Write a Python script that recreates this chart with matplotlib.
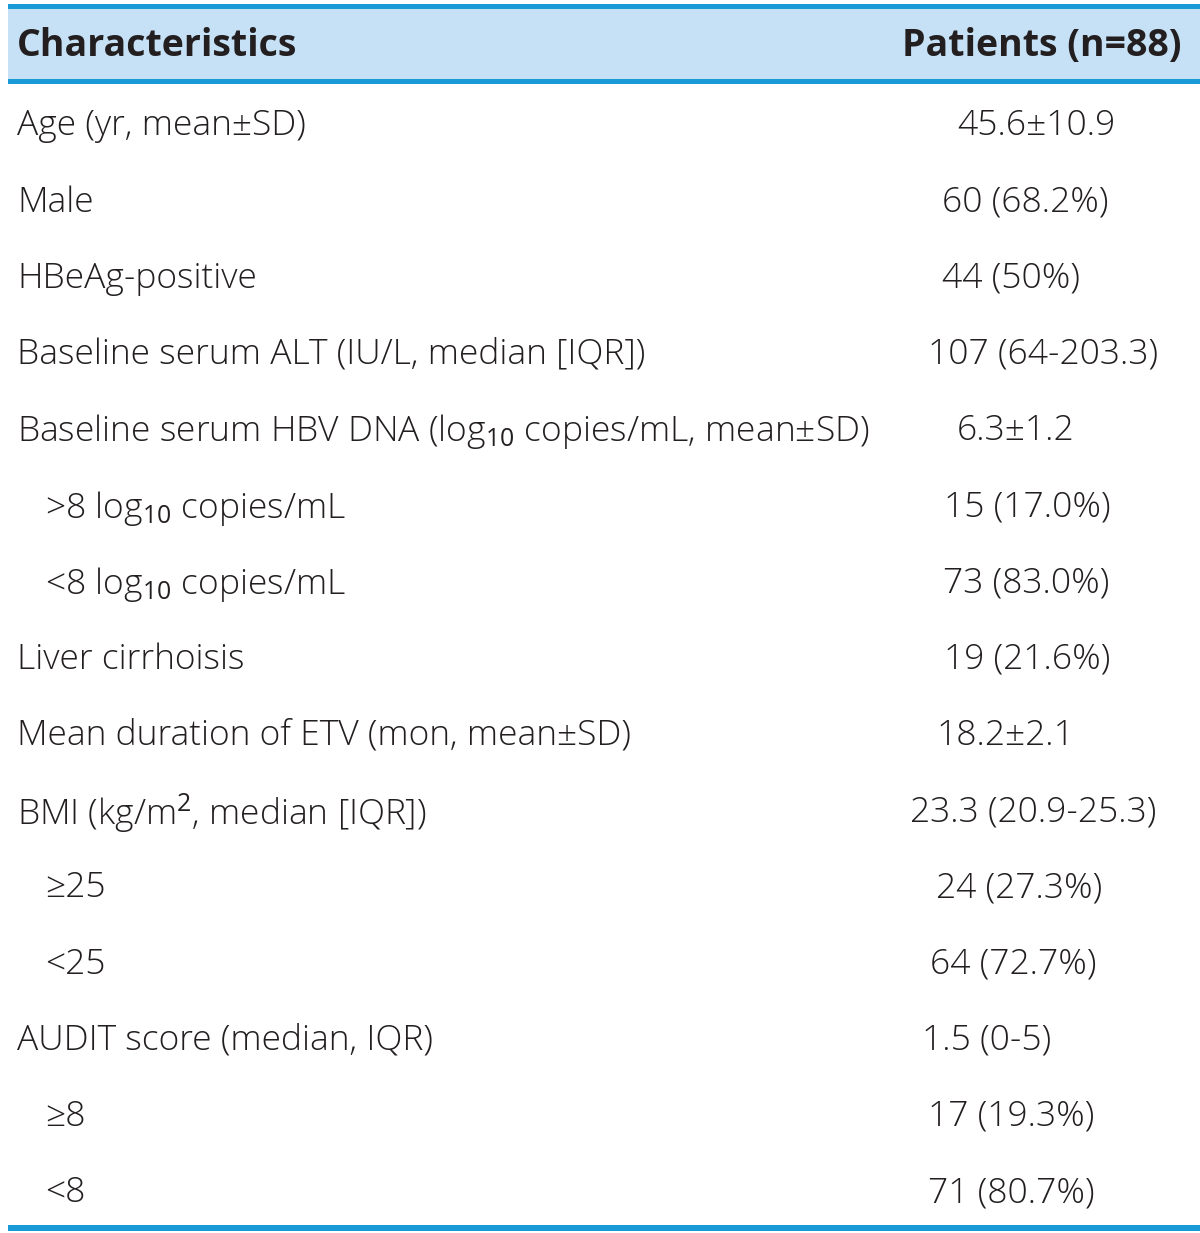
import matplotlib
matplotlib.use("Agg")
import matplotlib.pyplot as plt
from matplotlib.patches import Rectangle

plt.rcParams['font.family'] = ['Open Sans', 'DejaVu Sans']
plt.rcParams['mathtext.fontset'] = 'custom'
plt.rcParams['mathtext.rm'] = 'Open Sans'
plt.rcParams['mathtext.it'] = 'Open Sans'

header = ["Characteristics", "Patients (n=88)"]
characteristics = [
    "Age (yr, mean±SD)",
    "Male",
    "HBeAg-positive",
    "Baseline serum ALT (IU/L, median [IQR])",
    "Baseline serum HBV DNA (log$_{10}$ copies/mL, mean±SD)",
    ">8 log$_{10}$ copies/mL",
    "<8 log$_{10}$ copies/mL",
    "Liver cirrhoisis",
    "Mean duration of ETV (mon, mean±SD)",
    "BMI (kg/m$^{2}$, median [IQR])",
    "≥25",
    "<25",
    "AUDIT score (median, IQR)",
    "≥8",
    "<8",
]
patients = [
    "45.6±10.9",
    "60 (68.2%)",
    "44 (50%)",
    "107 (64-203.3)",
    "6.3±1.2",
    "15 (17.0%)",
    "73 (83.0%)",
    "19 (21.6%)",
    "18.2±2.1",
    "23.3 (20.9-25.3)",
    "24 (27.3%)",
    "64 (72.7%)",
    "1.5 (0-5)",
    "17 (19.3%)",
    "71 (80.7%)",
]
indented = [False, False, False, False, False, True, True, False, False, False,
            True, True, False, True, True]

# layout (pixel units of the 1200x1233 canvas)
W, H = 1200, 1233
value_x = [957, 942, 942, 928, 957, 944, 943, 944, 937, 910, 936, 930, 922, 928, 928]
row_top = 84
row_h = 76.2
blue = "#1a9bd7"
fill = "#c6e1f5"
ink = "#231f20"
fs = 25.5

fig = plt.figure(figsize=(12, 12.33), dpi=100)
ax = fig.add_axes([0, 0, 1, 1])
ax.set_xlim(0, W)
ax.set_ylim(H, 0)
ax.axis("off")

# header band and rules
ax.add_patch(Rectangle((8, 9), W - 8, 71, facecolor=fill, edgecolor="none"))
ax.add_patch(Rectangle((8, 4), W - 8, 5, facecolor=blue, edgecolor="none"))
ax.add_patch(Rectangle((8, 79), W - 8, 5, facecolor=blue, edgecolor="none"))
ax.add_patch(Rectangle((8, 1225), W - 8, 6, facecolor=blue, edgecolor="none"))

ax.text(17, 46, header[0], fontsize=27, fontweight="bold", color=ink,
        ha="left", va="center")
ax.text(1182, 46, header[1], fontsize=27, fontweight="bold", color=ink,
        ha="right", va="center")

for i, (lab, val) in enumerate(zip(characteristics, patients)):
    y = row_top + row_h * (i + 0.5)
    x = 45 if indented[i] else 17
    ax.text(x, y, lab, fontsize=fs, fontweight="light", color=ink,
            ha="left", va="center_baseline")
    ax.text(value_x[i], y, val, fontsize=fs, fontweight="light", color=ink,
            ha="left", va="center_baseline")

fig.savefig("out.png", dpi=100)
